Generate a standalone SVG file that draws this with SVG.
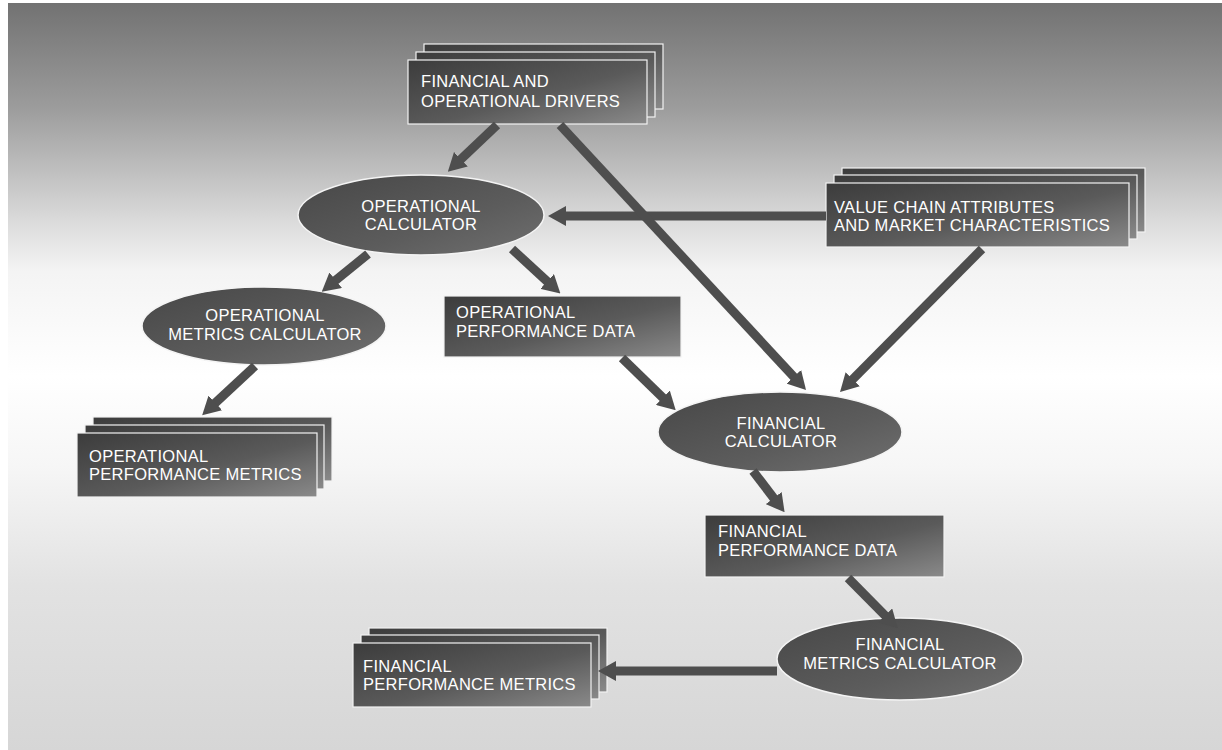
<svg xmlns="http://www.w3.org/2000/svg" width="1222" height="750" viewBox="0 0 1222 750">
<defs>
<linearGradient id="bg" x1="0" y1="0" x2="0" y2="1">
<stop offset="0" stop-color="#727272"/>
<stop offset="0.14" stop-color="#9c9c9c"/>
<stop offset="0.3" stop-color="#dedede"/>
<stop offset="0.36" stop-color="#f4f4f4"/>
<stop offset="0.5" stop-color="#ffffff"/>
<stop offset="0.62" stop-color="#f6f6f6"/>
<stop offset="0.78" stop-color="#e2e2e2"/>
<stop offset="1" stop-color="#d6d6d6"/>
</linearGradient>
<linearGradient id="boxg" x1="0" y1="0" x2="1" y2="1">
<stop offset="0" stop-color="#3c3c3c"/>
<stop offset="0.55" stop-color="#5a5a5a"/>
<stop offset="1" stop-color="#8a8a8a"/>
</linearGradient>
<linearGradient id="ellg" x1="0" y1="0" x2="1" y2="1">
<stop offset="0" stop-color="#474747"/>
<stop offset="0.6" stop-color="#5c5c5c"/>
<stop offset="1" stop-color="#707070"/>
</linearGradient>
<marker id="ah" markerUnits="userSpaceOnUse" markerWidth="18" markerHeight="20" viewBox="0 0 18 20" refX="4" refY="10" orient="auto">
<path d="M0,0 L18,10 L0,20 z" fill="#4e4e4e"/>
</marker>
<style>
.box{fill:url(#boxg);stroke:#f2f2f2;stroke-width:1.2}
.ell{fill:url(#ellg);stroke:#f4f4f4;stroke-width:1.5}
.t{font-family:"Liberation Sans",Arial,sans-serif;font-size:16.5px;letter-spacing:0.3px;fill:#ffffff}
.c{text-anchor:middle}
.arr{stroke:#4e4e4e;stroke-width:9;fill:none;marker-end:url(#ah)}
</style>
</defs>
<rect x="0" y="0" width="1222" height="750" fill="#ffffff"/>
<rect x="8" y="3" width="1214" height="747" fill="url(#bg)"/>

<g id="n-drivers">
<rect class="box" x="424" y="44" width="239" height="65"/>
<rect class="box" x="416" y="52" width="239" height="65"/>
<rect class="box" x="408" y="60" width="239" height="64"/>
<text class="t" x="421" y="87">FINANCIAL AND</text>
<text class="t" x="421" y="107">OPERATIONAL DRIVERS</text>
</g>

<g id="n-opcalc">
<ellipse class="ell" cx="421" cy="215" rx="123" ry="40"/>
<text class="t c" x="421" y="212">OPERATIONAL</text>
<text class="t c" x="421" y="230">CALCULATOR</text>
</g>

<g id="n-valuechain">
<rect class="box" x="842" y="168" width="303" height="64"/>
<rect class="box" x="834" y="175" width="303" height="64"/>
<rect class="box" x="826" y="183" width="303" height="64"/>
<text class="t" x="834" y="212.5">VALUE CHAIN ATTRIBUTES</text>
<text class="t" x="834" y="230.5">AND MARKET CHARACTERISTICS</text>
</g>

<g id="n-opmetcalc">
<ellipse class="ell" cx="264" cy="326" rx="122" ry="39"/>
<text class="t c" x="265" y="321">OPERATIONAL</text>
<text class="t c" x="265" y="340">METRICS CALCULATOR</text>
</g>

<g id="n-opperfdata">
<rect class="box" x="444" y="296" width="237" height="61"/>
<text class="t" x="456" y="318">OPERATIONAL</text>
<text class="t" x="456" y="337">PERFORMANCE DATA</text>
</g>

<g id="n-opperfmet">
<rect class="box" x="93" y="417" width="239" height="64"/>
<rect class="box" x="85" y="425" width="239" height="64"/>
<rect class="box" x="77" y="433" width="240" height="64"/>
<text class="t" x="89" y="462">OPERATIONAL</text>
<text class="t" x="89" y="480">PERFORMANCE METRICS</text>
</g>

<g id="n-fincalc">
<ellipse class="ell" cx="780" cy="432" rx="122" ry="40"/>
<text class="t c" x="781" y="429">FINANCIAL</text>
<text class="t c" x="781" y="447">CALCULATOR</text>
</g>

<g id="n-finperfdata">
<rect class="box" x="705" y="515" width="239" height="62"/>
<text class="t" x="718" y="537">FINANCIAL</text>
<text class="t" x="718" y="556">PERFORMANCE DATA</text>
</g>

<g id="n-finmetcalc">
<ellipse class="ell" cx="900" cy="659" rx="123" ry="41"/>
<text class="t c" x="900" y="650">FINANCIAL</text>
<text class="t c" x="900" y="669">METRICS CALCULATOR</text>
</g>

<g id="n-finperfmet">
<rect class="box" x="369" y="628" width="238" height="64"/>
<rect class="box" x="361" y="635" width="238" height="64"/>
<rect class="box" x="353" y="643" width="238" height="64"/>
<text class="t" x="363" y="672">FINANCIAL</text>
<text class="t" x="363" y="690">PERFORMANCE METRICS</text>
</g>

<g id="connectors">
<line class="arr" x1="497" y1="125" x2="458" y2="162"/>
<line class="arr" x1="826" y1="216" x2="562" y2="216"/>
<line class="arr" x1="560" y1="125" x2="796.5" y2="379.7"/>
<line class="arr" x1="982" y1="249" x2="849.9" y2="382.1"/>
<line class="arr" x1="368" y1="254" x2="332.6" y2="282.8"/>
<line class="arr" x1="512" y1="249" x2="550.1" y2="284.1"/>
<line class="arr" x1="255" y1="366" x2="212.4" y2="405.6"/>
<line class="arr" x1="622" y1="358" x2="665.7" y2="400.5"/>
<line class="arr" x1="753" y1="471" x2="776.1" y2="501.2"/>
<line class="arr" x1="848" y1="578" x2="887.9" y2="618.3"/>
<line class="arr" x1="777" y1="671" x2="612" y2="671"/>
</g>
</svg>
